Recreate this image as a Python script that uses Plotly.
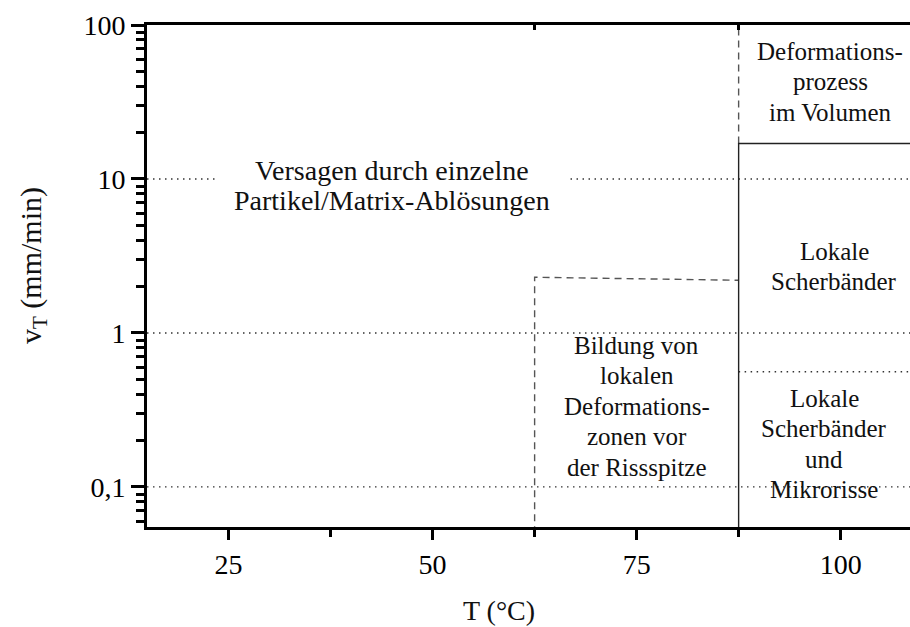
import plotly.graph_objects as go

# ---- data ----
x_range = [15, 108.5]          # temperature axis, °C
y_range_log = [-1.26, 2.0]     # log10 of v_T (mm/min)
x_major = [25, 50, 75, 100]
x_major_text = ["25", "50", "75", "100"]
x_minor = [37.5, 62.5, 87.5]
y_major = [0.1, 1, 10, 100]
y_major_text = ["0,1", "1", "10", "100"]
y_minor = [m * 10 ** e for e in range(-2, 2) for m in range(2, 10)]

T_crack = 62.5       # left edge of crack-tip deformation zone
T_bulk = 87.5        # onset of bulk / local shear band regime
v_zone_top = [2.3, 2.2]   # top of dashed crack-tip zone (left, right)
v_bulk = 17.0        # boundary to bulk deformation
v_micro = 0.56       # boundary shear bands / micro-cracks
v_grid = [0.1, 1, 10]
T_gap_10 = [23.4, 66.9]   # gap in dotted 10-line behind text
v_floor = 0.05
top_ticks = [T_crack, T_bulk]

# text blocks: (lines, centre T, first-line centre px-row, font size)
blocks = [
    (["Versagen durch einzelne", "Partikel/Matrix-Ablösungen"], 45.0, 170, 28),
    (["Deformations-", "prozess", "im Volumen"], 98.7, 51, 25),
    (["Lokale", "Scherbänder"], 99.2, 251, 25),
    (["Bildung von", "lokalen", "Deformations-", "zonen vor", "der Rissspitze"], 75.0, 345, 25),
    (["Lokale", "Scherbänder", "und", "Mikrorisse"], 98.0, 398, 25),
]
line_step_px = 30.5

FONT = "Liberation Serif, Times New Roman, serif"
W, H = 910, 627
ML, MT, MB, MR = 147, 25, 100, 0
plot_h = H - MT - MB

fig = go.Figure()

dot_style = dict(color="#333333", width=1.3, dash="1.5px,4.5px")
dash_style = dict(color="#555555", width=1.4, dash="7px,5px")
solid_style = dict(color="#222222", width=1.4)

def seg(xs, ys, style):
    fig.add_trace(go.Scatter(x=xs, y=ys, mode="lines", line=style,
                             hoverinfo="skip", showlegend=False))

# dotted horizontal guides
for v in v_grid:
    if v == 10:
        seg([x_range[0], T_gap_10[0]], [v, v], dot_style)
        seg([T_gap_10[1], x_range[1]], [v, v], dot_style)
    else:
        seg([x_range[0], x_range[1]], [v, v], dot_style)
seg([T_bulk, x_range[1]], [v_micro, v_micro], dot_style)

# dashed crack-tip zone
seg([T_crack, T_crack, T_bulk], [v_floor, v_zone_top[0], v_zone_top[1]], dash_style)
# dashed bulk boundary above v_bulk
seg([T_bulk, T_bulk], [v_bulk, 100], dash_style)
# solid boundary
seg([T_bulk, T_bulk, x_range[1]], [v_floor, v_bulk, v_bulk], solid_style)

# invisible trace to activate the top tick axis
fig.add_trace(go.Scatter(x=[x_range[0]], y=[None], xaxis="x2", yaxis="y",
                         mode="lines", hoverinfo="skip", showlegend=False))

# text annotations
def px_to_log(py):
    return y_range_log[1] - (py - MT) / plot_h * (y_range_log[1] - y_range_log[0])

for lines, tx, row0, fs in blocks:
    for i, txt in enumerate(lines):
        fig.add_annotation(x=tx, y=px_to_log(row0 + i * line_step_px), text=txt,
                           showarrow=False, xanchor="center", yanchor="middle",
                           font=dict(family=FONT, size=fs, color="#111111"))

# axis titles
fig.add_annotation(x=58.1, xref="x", y=-(610 - (H - MB)) / plot_h, yref="paper",
                   text="T (°C)", showarrow=False, xanchor="center", yanchor="middle",
                   font=dict(family=FONT, size=28, color="#111111"))
fig.add_annotation(x=-(ML - 33) / (W - ML - MR), xref="paper", y=0.52, yref="paper",
                   text="v<sub>T</sub> (mm/min)", textangle=-90, showarrow=False,
                   xanchor="center", yanchor="middle",
                   font=dict(family=FONT, size=30, color="#111111"))

fig.update_xaxes(range=x_range, showgrid=False, zeroline=False,
                 showline=True, linewidth=3, linecolor="black", mirror=True,
                 tickmode="array", tickvals=x_major, ticktext=x_major_text,
                 ticks="outside", ticklen=10, tickwidth=3, tickcolor="black",
                 tickfont=dict(family=FONT, size=28, color="black"),
                 minor=dict(tickmode="array", tickvals=x_minor, ticks="outside",
                            ticklen=7, tickwidth=3, tickcolor="black", showgrid=False))
fig.update_yaxes(type="log", range=y_range_log, showgrid=False, zeroline=False,
                 showline=True, linewidth=3, linecolor="black",
                 tickmode="array", tickvals=y_major, ticktext=y_major_text,
                 ticks="outside", ticklen=13, tickwidth=3, tickcolor="black",
                 tickfont=dict(family=FONT, size=28, color="black"),
                 minor=dict(tickmode="array", tickvals=y_minor, ticks="outside",
                            ticklen=8, tickwidth=3, tickcolor="black", showgrid=False))

fig.update_layout(
    xaxis2=dict(overlaying="x", side="top", anchor="y", range=x_range,
                tickmode="array", tickvals=top_ticks, ticks="inside", ticklen=5,
                tickwidth=3, tickcolor="black", showticklabels=False,
                showline=False, showgrid=False, zeroline=False),
    width=W, height=H, margin=dict(l=ML, r=MR, t=MT, b=MB),
    paper_bgcolor="white", plot_bgcolor="white", showlegend=False)

fig.write_html("out.html")
